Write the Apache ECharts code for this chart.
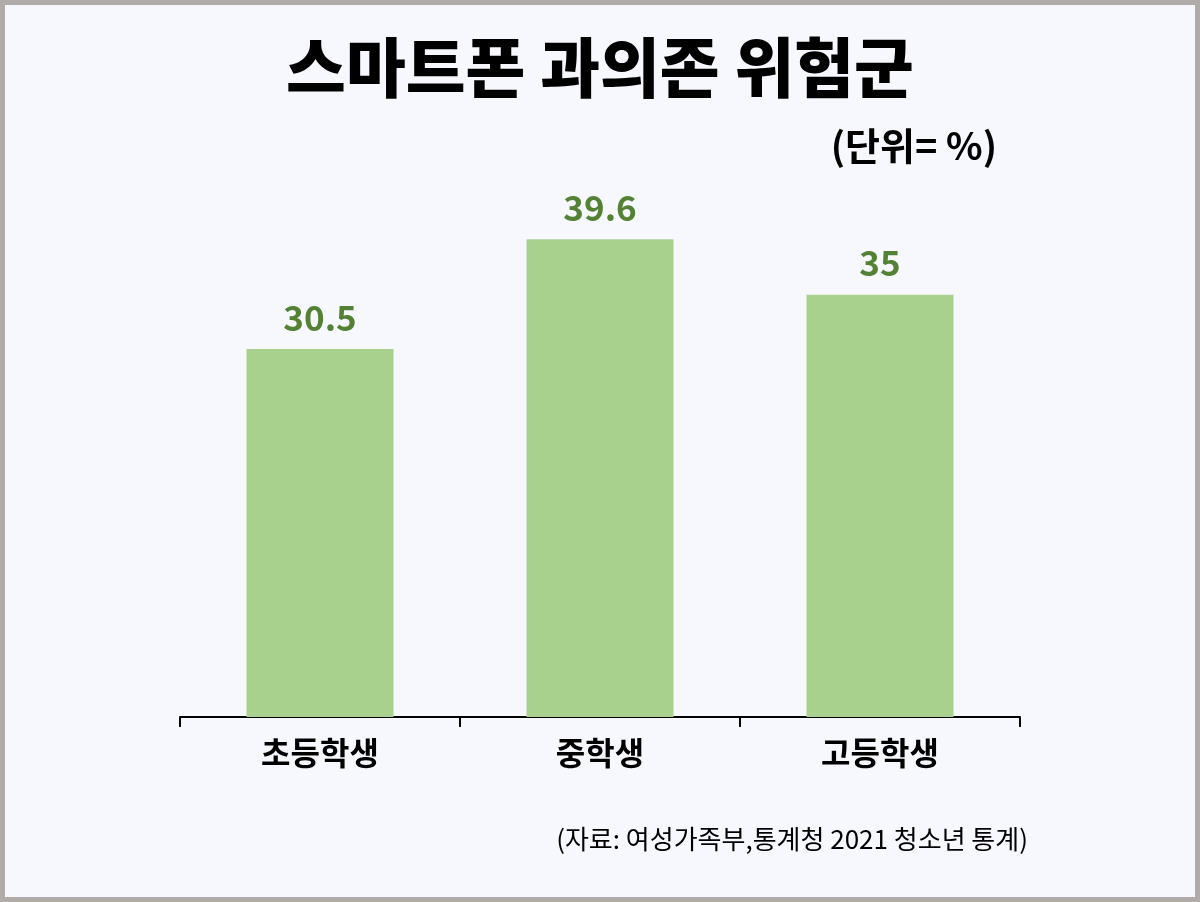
<!DOCTYPE html>
<html>
<head>
<meta charset="utf-8">
<script src="https://cdn.jsdelivr.net/npm/echarts@6/dist/echarts.min.js"></script>
<style>
  html, body { margin: 0; padding: 0; background: #f7f8fe; }
  #chart { width: 1200px; height: 902px; }
</style>
</head>
<body>
<div id="chart"></div>
<script>
// 데이터
var categories = ['초등학생', '중학생', '고등학생'];
var values = [30.5, 39.6, 35];

var titleText = '스마트폰 과의존 위험군';
var unitText = '(단위= %)';
var sourceText = '(자료: 여성가족부,통계청 2021 청소년 통계)';

var FONT = '"Noto Sans CJK KR", "Noto Sans", sans-serif';

var chart = echarts.init(document.getElementById('chart'));

var option = {
  backgroundColor: '#f7f8fe',
  animation: false,
  title: {
    text: titleText,
    left: 'center',
    top: 30,
    textStyle: { fontFamily: FONT, fontSize: 65, fontWeight: 900, color: '#000' }
  },
  grid: { left: 180, right: 180, top: 174, bottom: 185 },
  xAxis: {
    type: 'category',
    data: categories,
    axisLine: { lineStyle: { color: '#000', width: 2 } },
    axisTick: { show: true, length: 10, lineStyle: { color: '#000', width: 2 } },
    axisLabel: {
      margin: 20,
      fontFamily: FONT, fontSize: 32, fontWeight: 'bold', color: '#000'
    }
  },
  yAxis: {
    type: 'value',
    min: 0,
    max: 45,
    show: false,
    splitLine: { show: false }
  },
  series: [{
    type: 'bar',
    data: values,
    barWidth: '52.5%',
    itemStyle: { color: '#a9d18e' },
    label: {
      show: true,
      position: 'top',
      distance: 14,
      fontFamily: FONT,
      fontSize: 35,
      fontWeight: 'bold',
      color: '#548235'
    }
  }],
  graphic: [
    {
      type: 'text',
      right: 203,
      top: 127,
      style: { text: unitText, font: '600 38px ' + FONT, fill: '#000' }
    },
    {
      type: 'text',
      right: 172,
      top: 826,
      style: { text: sourceText, font: '26px ' + FONT, fill: '#000' }
    },
    {
      type: 'rect',
      shape: { x: 2.5, y: 2.5, width: 1195, height: 897 },
      style: { fill: 'none', stroke: '#b0aba9', lineWidth: 5 },
      silent: true
    }
  ]
};

chart.setOption(option);
</script>
</body>
</html>
